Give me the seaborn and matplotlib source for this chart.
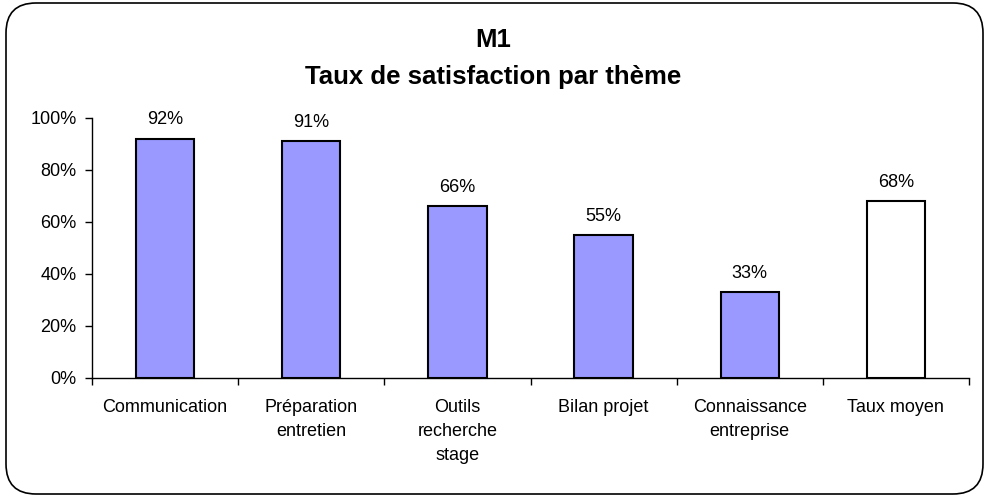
import matplotlib
matplotlib.use("Agg")
import matplotlib.pyplot as plt
import seaborn as sns
import numpy as np
from matplotlib.patches import FancyBboxPatch
from matplotlib.ticker import FuncFormatter

# data
themes = ["Communication", "Préparation\nentretien", "Outils\nrecherche\nstage",
          "Bilan projet", "Connaissance\nentreprise", "Taux moyen"]
rates = [0.92, 0.91, 0.66, 0.55, 0.33, 0.68]
bar_colors = ["#9999FF", "#9999FF", "#9999FF", "#9999FF", "#9999FF", "#FFFFFF"]
yticks = [0, 0.2, 0.4, 0.6, 0.8, 1.0]

sns.set_style("white")
plt.rcParams["font.family"] = ["Liberation Sans", "DejaVu Sans"]
plt.rcParams["text.color"] = "black"
plt.rcParams["xtick.color"] = "black"
plt.rcParams["ytick.color"] = "black"

W, H = 986, 497
fig = plt.figure(figsize=(W / 100, H / 100), dpi=100)
ax = fig.add_axes([92 / W, 1 - 378 / H, (969 - 92) / W, (378 - 118) / H])

sns.barplot(x=themes, y=rates, hue=themes, palette=bar_colors, legend=False,
            edgecolor="black", linewidth=1.5, width=0.4, saturation=1, ax=ax)

for i, v in enumerate(rates):
    ax.text(i, v + 0.04, f"{v:.0%}", ha="center", va="bottom", fontsize=13)

ax.set_ylim(0, 1)
ax.set_xlim(-0.5, len(themes) - 0.5)
ax.set_yticks(yticks)
ax.yaxis.set_major_formatter(FuncFormatter(lambda v, p: f"{v:.0%}"))

# category boundaries as ticks, labels centered on bars
ax.set_xticks(np.arange(len(themes)))
ax.set_xticklabels(themes, fontsize=13, linespacing=1.55)
ax.set_xticks(np.arange(len(themes) + 1) - 0.5, minor=True)
ax.tick_params(axis="x", which="major", length=0, pad=15)
ax.tick_params(axis="x", which="minor", length=5, width=1, color="black",
               direction="out", bottom=True)
ax.tick_params(axis="y", length=5, width=1, color="black", direction="out",
               left=True, labelsize=13, pad=6)
ax.set_xlabel("")
ax.set_ylabel("")

for s in ["top", "right"]:
    ax.spines[s].set_visible(False)
for s in ["left", "bottom"]:
    ax.spines[s].set_color("black")
    ax.spines[s].set_linewidth(1)

fig.text(0.5, 1 - 40 / H, "M1", ha="center", va="center", fontsize=18.5, fontweight="bold")
fig.text(0.5, 1 - 77 / H, "Taux de satisfaction par thème", ha="center", va="center",
         fontsize=18.5, fontweight="bold")

# rounded outer frame
frame = FancyBboxPatch((6 / 100, 3 / 100), (983 - 6) / 100, (494 - 3) / 100,
                       boxstyle="round,pad=0,rounding_size=0.3",
                       transform=fig.dpi_scale_trans, fill=False,
                       edgecolor="black", linewidth=1.2)
fig.patches.append(frame)

fig.savefig("out.png", dpi=100)
